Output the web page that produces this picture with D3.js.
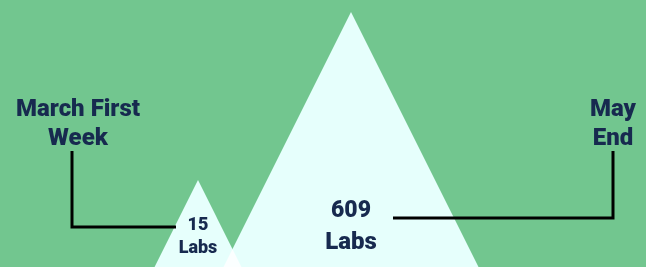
<!DOCTYPE html>
<html><head><meta charset="utf-8">
<script src="https://cdn.jsdelivr.net/npm/d3@7"></script>
<style>body{margin:0;background:#72c68f;}svg{display:block;}</style>
</head><body>
<script>
const periods = ["March First Week", "May End"];
const labs = [15, 609];
const periodLines = [["March First", "Week"], ["May", "End"]];
const valueUnit = "Labs";

const W = 646, H = 267;
const svg = d3.select("body").append("svg").attr("width", W).attr("height", H);
svg.append("rect").attr("width", W).attr("height", H).attr("fill", "#72c68f");

const x = d3.scalePoint().domain(periods).range([198, 351]);
const y = d3.scaleLog().domain([1, 609]).range([303, 12]);
const base = y(1);

const data = periods.map((p, i) => ({p, v: labs[i], lines: periodLines[i]}));

svg.selectAll("path.tri").data(data).join("path")
  .attr("class", "tri")
  .attr("d", d => {
    const cx = x(d.p), top = y(d.v), h = base - top;
    return `M${cx - h / 2},${base}L${cx},${top}L${cx + h / 2},${base}Z`;
  })
  .attr("fill", "rgb(210,255,248)")
  .style("mix-blend-mode", "screen");

const navy = "#172a4f";
const font = "Roboto, 'Liberation Sans', sans-serif";

function valueLabel(d, size1, size2, y1, y2) {
  const g = svg.append("g").attr("font-family", font).attr("font-weight", 900)
    .attr("fill", navy).attr("text-anchor", "middle");
  g.append("text").attr("x", x(d.p)).attr("y", y1).attr("font-size", size1).text(d.v);
  g.append("text").attr("x", x(d.p)).attr("y", y2).attr("font-size", size2).text(valueUnit);
}
valueLabel(data[0], 18, 18, 230, 253);
valueLabel(data[1], 23, 24, 217, 249);

const periodX = [78, 613];
data.forEach((d, i) => {
  const t = svg.append("text").attr("font-family", font).attr("font-weight", 900)
    .attr("fill", navy).attr("text-anchor", "middle").attr("font-size", 24);
  d.lines.forEach((ln, j) => {
    t.append("tspan").attr("x", periodX[i]).attr("y", 116 + j * 28.5).text(ln);
  });
});

const line = d3.line();
svg.append("path").attr("d", line([[72, 151], [72, 227], [176, 227]]))
  .attr("fill", "none").attr("stroke", "#000").attr("stroke-width", 3);
svg.append("path").attr("d", line([[393, 218], [613, 218], [613, 151]]))
  .attr("fill", "none").attr("stroke", "#000").attr("stroke-width", 3);
</script>
</body></html>
